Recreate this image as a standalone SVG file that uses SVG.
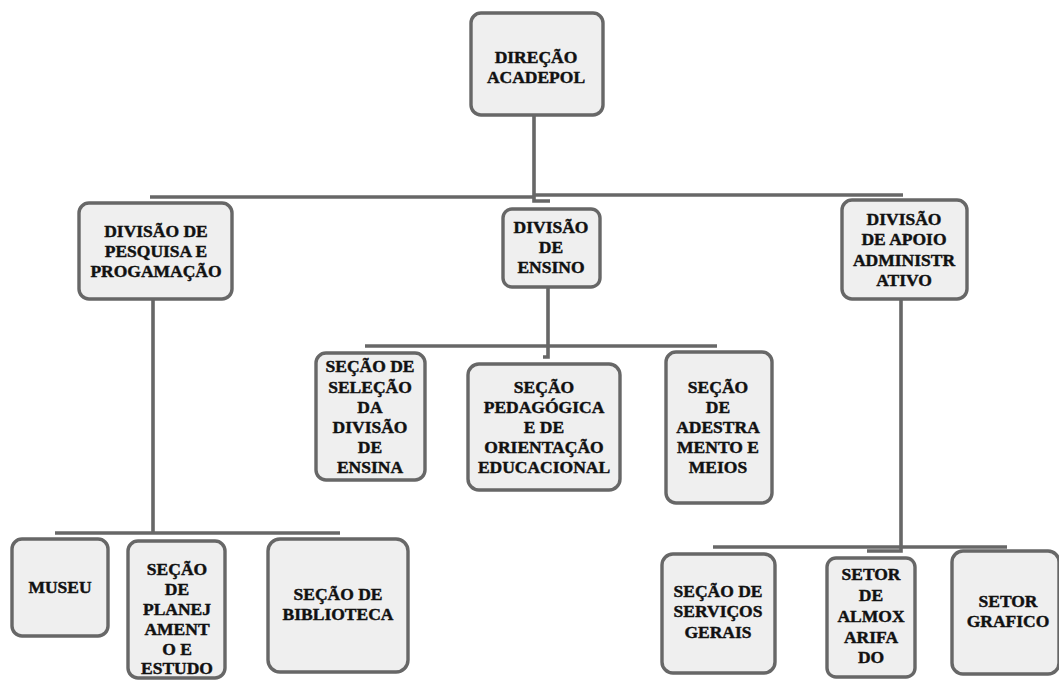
<svg xmlns="http://www.w3.org/2000/svg" width="1059" height="680" viewBox="0 0 1059 680">
<style>
.box{fill:#efefef;stroke:#676767;stroke-width:3.4}
.t{font-family:"Liberation Serif","Times New Roman",serif;font-weight:bold;font-size:17.5px;fill:#111111;stroke:#111111;stroke-width:0.45;text-anchor:middle}
.c{stroke:#676767;stroke-width:3.6;fill:none}
</style>
<rect width="1059" height="680" fill="#ffffff"/>
<g id="connectors">
<path class="c" d="M534,115 V201 H550"/>
<path class="c" d="M150,197 H534"/>
<path class="c" d="M534,195 H903"/>
<path class="c" d="M153,299 V533"/>
<path class="c" d="M55,533 H340"/>
<path class="c" d="M548,287 V357 H543"/>
<path class="c" d="M365,346 H717"/>
<path class="c" d="M901,299 V551 H867"/>
<path class="c" d="M713,547 H1007"/>
</g>
<g id="direcao">
<rect class="box" x="471" y="13" width="132" height="102" rx="10"/>
<text class="t"><tspan x="536" y="63">DIREÇÃO</tspan><tspan x="536" y="83">ACADEPOL</tspan></text>
</g>
<g id="div-pesquisa">
<rect class="box" x="79" y="203" width="153" height="96" rx="10"/>
<text class="t"><tspan x="156" y="237">DIVISÃO DE</tspan><tspan x="156" y="257">PESQUISA E</tspan><tspan x="156" y="277">PROGAMAÇÃO</tspan></text>
</g>
<g id="div-ensino">
<rect class="box" x="503" y="209" width="97" height="78" rx="9"/>
<text class="t"><tspan x="551" y="233">DIVISÃO</tspan><tspan x="551" y="253">DE</tspan><tspan x="551" y="273">ENSINO</tspan></text>
</g>
<g id="div-apoio">
<rect class="box" x="842" y="200" width="125" height="99" rx="10"/>
<text class="t"><tspan x="904" y="225">DIVISÃO</tspan><tspan x="904" y="245">DE APOIO</tspan><tspan x="904" y="266">ADMINISTR</tspan><tspan x="904" y="286">ATIVO</tspan></text>
</g>
<g id="sec-selecao">
<rect class="box" x="316" y="353" width="109" height="127" rx="10"/>
<text class="t"><tspan x="370" y="372">SEÇÃO DE</tspan><tspan x="370" y="393">SELEÇÃO</tspan><tspan x="370" y="413">DA</tspan><tspan x="370" y="433">DIVISÃO</tspan><tspan x="370" y="453">DE</tspan><tspan x="370" y="473">ENSINA</tspan></text>
</g>
<g id="sec-pedagogica">
<rect class="box" x="468" y="364" width="152" height="126" rx="11"/>
<text class="t"><tspan x="544" y="393">SEÇÃO</tspan><tspan x="544" y="413">PEDAGÓGICA</tspan><tspan x="544" y="433">E DE</tspan><tspan x="544" y="453">ORIENTAÇÃO</tspan><tspan x="544" y="473">EDUCACIONAL</tspan></text>
</g>
<g id="sec-adestramento">
<rect class="box" x="666" y="352" width="106" height="151" rx="10"/>
<text class="t"><tspan x="718" y="393">SEÇÃO</tspan><tspan x="718" y="413">DE</tspan><tspan x="718" y="433">ADESTRA</tspan><tspan x="718" y="453">MENTO E</tspan><tspan x="718" y="473">MEIOS</tspan></text>
</g>
<g id="museu">
<rect class="box" x="12" y="539" width="96" height="97" rx="10"/>
<text class="t"><tspan x="60" y="593">MUSEU</tspan></text>
</g>
<g id="sec-planejamento">
<rect class="box" x="128" y="541" width="97" height="137" rx="10"/>
<text class="t"><tspan x="177" y="575">SEÇÃO</tspan><tspan x="177" y="595">DE</tspan><tspan x="177" y="615">PLANEJ</tspan><tspan x="177" y="635">AMENT</tspan><tspan x="177" y="655">O E</tspan><tspan x="177" y="674">ESTUDO</tspan></text>
</g>
<g id="sec-biblioteca">
<rect class="box" x="268" y="539" width="140" height="133" rx="12"/>
<text class="t"><tspan x="338" y="600">SEÇÃO DE</tspan><tspan x="338" y="620">BIBLIOTECA</tspan></text>
</g>
<g id="sec-servicos">
<rect class="box" x="662" y="554" width="113" height="119" rx="11"/>
<text class="t"><tspan x="718" y="597">SEÇÃO DE</tspan><tspan x="718" y="617">SERVIÇOS</tspan><tspan x="718" y="638">GERAIS</tspan></text>
</g>
<g id="setor-almox">
<rect class="box" x="827" y="558" width="88" height="119" rx="9"/>
<text class="t"><tspan x="871" y="580">SETOR</tspan><tspan x="871" y="601">DE</tspan><tspan x="871" y="622">ALMOX</tspan><tspan x="871" y="643">ARIFA</tspan><tspan x="871" y="663">DO</tspan></text>
</g>
<g id="setor-grafico">
<rect class="box" x="952" y="551" width="107" height="123" rx="11"/>
<text class="t"><tspan x="1008" y="607">SETOR</tspan><tspan x="1008" y="627">GRAFICO</tspan></text>
</g>
</svg>
